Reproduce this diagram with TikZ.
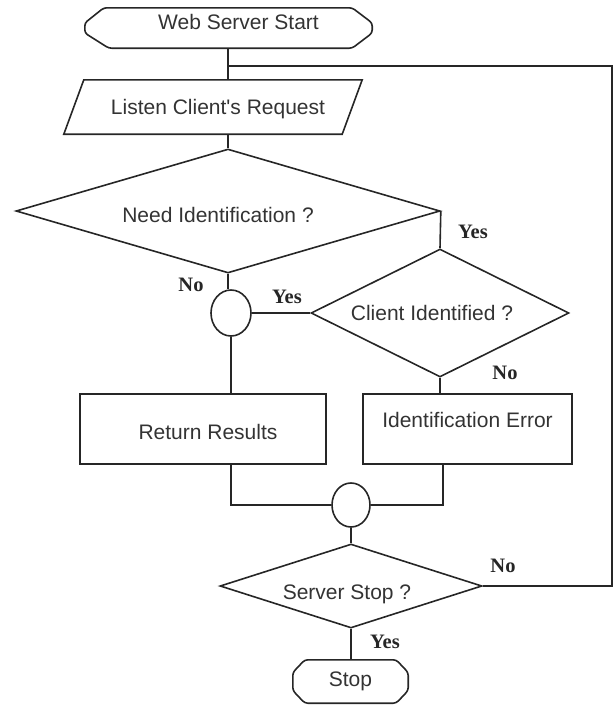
\documentclass[tikz,border=0pt]{standalone}
\usepackage{fontspec}
\setmainfont{Liberation Serif}
\newfontfamily\boxfont{Liberation Sans}
\usetikzlibrary{shapes.geometric}
\newcommand\sh[3]{\raisebox{#2}{\hspace*{#1}#3}}
\begin{document}
\begin{tikzpicture}[x=1pt,y=-1pt,
  line/.style={draw=black!85, line width=1.6pt},
  txt/.style={font=\boxfont\fontsize{21}{24}\selectfont, text=black!80, text height=15pt, text depth=0pt, inner sep=0pt},
  shapebox/.style={txt, draw=none, rectangle},
  rectbox/.style={txt, line, rectangle},
  decision/.style={txt, line, diamond},
  joint/.style={line, ellipse, inner sep=0pt},
  lab/.style={font=\bfseries\fontsize{20.5}{22}\selectfont, text=black!85, inner sep=0pt}
]
\useasboundingbox (0,0) rectangle (616,705);

% nodes
\node[shapebox, minimum width=287pt, minimum height=40pt] (ws) at (228.5,28) {\sh{20pt}{6pt}{Web Server Start}};
\node[shapebox, minimum width=298pt, minimum height=54pt] (listen) at (213,107) {\sh{10pt}{0pt}{Listen Client's Request}};
\node[decision, minimum width=424pt, minimum height=124pt, shape aspect=3.42] (need) at (228,211) {\sh{-20pt}{-4pt}{Need Identification ?}};
\node[decision, minimum width=258pt, minimum height=128pt, shape aspect=2.0] (cli) at (440,313) {\sh{-16pt}{0pt}{Client Identified ?}};
\node[joint, minimum width=40pt, minimum height=46pt] (c1) at (231,313) {};
\node[rectbox, minimum width=246pt, minimum height=70pt] (rr) at (203,429) {\sh{10pt}{-3pt}{Return Results}};
\node[rectbox, minimum width=209pt, minimum height=70pt] (ie) at (467.5,429) {\sh{0pt}{9pt}{Identification Error}};
\node[joint, minimum width=38pt, minimum height=44pt] (c2) at (351,505) {};
\node[decision, minimum width=262pt, minimum height=84pt, shape aspect=3.12] (sstop) at (351,586) {\sh{-8pt}{-6pt}{Server Stop ?}};
\node[shapebox, minimum width=115pt, minimum height=43pt] (stop) at (350.5,681.5) {\sh{0pt}{3pt}{Stop}};

% terminal outlines (chamfered ends)
\draw[line, rounded corners=3pt] ([xshift=19pt]ws.north west) -- ([xshift=-20pt]ws.north east)
  -- ([yshift=5pt]ws.east) -- ([yshift=-5pt]ws.east) -- ([xshift=-20pt]ws.south east)
  -- ([xshift=24pt]ws.south west) -- ([yshift=-5pt]ws.west) -- ([yshift=5pt]ws.west) -- cycle;
\draw[line, rounded corners=3pt] ([xshift=12pt]stop.north west) -- ([xshift=-12pt]stop.north east)
  -- ([yshift=9pt]stop.east) -- ([yshift=-9pt]stop.east) -- ([xshift=-12pt]stop.south east)
  -- ([xshift=12pt]stop.south west) -- ([yshift=-9pt]stop.west) -- ([yshift=9pt]stop.west) -- cycle;
% parallelogram
\draw[line] ([xshift=20pt]listen.north west) -- (listen.north east) -- ([xshift=-20pt]listen.south east) -- (listen.south west) -- cycle;

% connectors
\coordinate (j) at (228,66);
\coordinate (rt) at (612,66);
\draw[line] (ws.south -| j) -- (j |- listen.north);
\draw[line] (j |- listen.south) -- (need.north);
\draw[line] (need.east) -- (cli.north);
\draw[line] (need.south) -- (need.south |- c1.north);
\draw[line] (c1.east) -- (cli.west);
\draw[line] (c1.south) -- (c1.south |- rr.north);
\draw[line] (cli.south) -- (cli.south |- ie.north);
\draw[line] (c1.south |- rr.south) |- (c2.west);
\draw[line] ([xshift=-24.5pt]ie.south) |- (c2.east);
\draw[line] (c2.south) -- (sstop.north);
\draw[line] (sstop.south) -- (sstop.south |- stop.north);
\draw[line] (sstop.east) -| (rt) -- (j);

% labels
\node[lab] (l1) at (473,232) {Yes};
\node[lab] (l2) at (191,285) {No};
\node[lab] (l3) at (287,297) {Yes};
\node[lab] (l4) at (505,373) {No};
\node[lab] (l5) at (503,566) {No};
\node[lab] (l6) at (385,642) {Yes};
\end{tikzpicture}
\end{document}
